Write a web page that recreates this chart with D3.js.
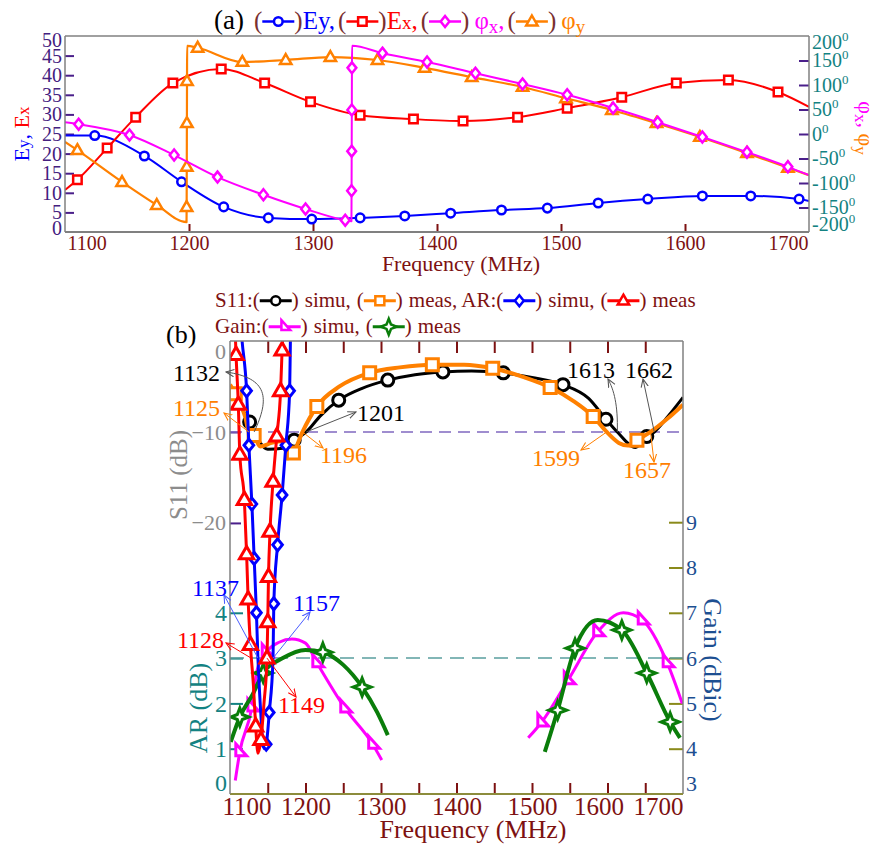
<!DOCTYPE html>
<html lang="en">
<head>
<meta charset="UTF-8" />
<title>Field, phase, S11, AR and gain vs frequency</title>
<script src="https://d3js.org/d3.v7.min.js"></script>
<style>
  html, body { margin: 0; padding: 0; background: #fff; }
  svg { display: block; }
</style>
</head>
<body>
<svg id="chart" width="878" height="846"></svg>
<script>
/**************** panel (a) data ****************/
const eyFreq = [1100, 1124, 1164, 1194, 1228, 1264, 1299, 1338, 1374, 1411, 1452, 1489, 1530, 1570, 1614, 1653, 1692, 1700];
const eyVal  = [24.6, 24.6, 19.4, 12.8, 6.4, 3.6, 3.3, 3.6, 4.1, 4.8, 5.6, 6.1, 7.4, 8.4, 9.2, 9.2, 8.4, 7.9];
const eyMark = [0,1,1,1,1,1,1,1,1,1,1,1,1,1,1,1,1,0];

const exFreq = [1100, 1110, 1134, 1157, 1187, 1226, 1261, 1298, 1338, 1381, 1421, 1465, 1505, 1549, 1593, 1635, 1675, 1700];
const exVal  = [10.7, 13.3, 21.4, 29.3, 38.0, 41.6, 38.0, 33.2, 29.8, 28.8, 28.3, 29.3, 31.6, 34.4, 38.0, 38.8, 35.7, 31.9];
const exMark = [0,1,1,1,1,1,1,1,1,1,1,1,1,1,1,1,1,0];

const phiXFreq = [1100, 1111, 1152, 1188, 1223, 1260, 1294, 1326, 1331, 1331.1, 1331.2, 1331.3, 1331.4, 1331.5, 1356, 1392, 1431, 1469, 1505, 1542, 1578, 1614, 1650, 1683, 1700];
const phiXDeg  = [24, 20, -2, -43, -88, -124, -153, -176, -178, -116, -35, 49, 135, 180, 165, 147, 124, 102, 80, 53, 24, -6, -37, -67, -84];
const phiXMark = [0,1,1,1,1,1,1,1,0,1,1,1,1,0,1,1,1,1,1,1,1,1,1,1,0];

const phiYFreq = [1100, 1110, 1146, 1174, 1198, 1198.1, 1198.2, 1198.3, 1198.4, 1198.5, 1207, 1243, 1278, 1314, 1352, 1390, 1428, 1469, 1504, 1541, 1577, 1612, 1650, 1683, 1700];
const phiYDeg  = [-16, -33, -98, -145, -180, -149, -67, 22, 108, 180, 176, 147, 151, 157, 151, 135, 116, 96, 73, 49, 22, -6, -39, -69, -84];
const phiYMark = [0,1,1,1,0,1,1,1,1,0,1,1,1,1,1,1,1,1,1,1,1,1,1,1,0];

const freqTicksA = [1100, 1200, 1300, 1400, 1500, 1600, 1700];
const eTicks = [0, 5, 10, 15, 20, 25, 30, 35, 40, 45, 50];
const phTicks = [-200, -150, -100, -50, 0, 50, 100, 150, 200];

/**************** panel (b) data ****************/
const s11SimFreq = [1100, 1110, 1126, 1132, 1150, 1170, 1185, 1201, 1220, 1244, 1275, 1309, 1345, 1382, 1420, 1462, 1500, 1541, 1575, 1598, 1613, 1637, 1652, 1662, 1680, 1700];
const s11SimVal  = [-5.8, -6.8, -8.9, -10, -11.9, -11.8, -10.9, -10, -8.2, -6.5, -5.2, -4.3, -3.7, -3.4, -3.3, -3.5, -4.0, -4.8, -6.3, -8.6, -10, -11.7, -10.5, -10, -8.3, -6.2];
const s11SimMark = [0,0,1,0,0,0,1,0,0,1,0,1,0,1,0,1,0,1,0,1,0,0,1,0,0,0];

const s11MeasFreq = [1100, 1107, 1120, 1125, 1132, 1140, 1155, 1170, 1177, 1184, 1196, 1215, 1245, 1285, 1325, 1368, 1410, 1448, 1490, 1524, 1555, 1581, 1599, 1615, 1627, 1639, 1657, 1680, 1700];
const s11MeasVal  = [-4.8, -5.8, -8.3, -10, -10.4, -11.6, -11.2, -11.0, -12.9, -12.3, -10, -7.2, -5.0, -3.5, -2.9, -2.6, -2.6, -3.0, -4.0, -5.1, -6.6, -8.3, -10, -11.2, -11.5, -10.9, -10, -8.5, -7.0];
const s11MeasMark = [0,1,0,0,1,0,0,0,0,1,0,1,0,1,0,1,0,1,0,1,0,1,0,0,0,1,0,0,0];

const arSimFreq = [1113, 1116, 1122, 1125, 1129, 1132, 1135, 1137, 1140, 1145, 1148, 1152, 1157, 1158, 1163, 1169, 1174, 1179, 1180, 1181];
const arSimVal  = [10.6, 10.0, 8.9, 7.7, 6.4, 5.2, 4.0, 3.0, 2.0, 1.0, 1.1, 1.8, 3.0, 4.2, 5.5, 6.6, 7.7, 8.9, 10.0, 10.6];
const arSimMark = [0,0,1,1,1,1,1,0,0,0,1,1,0,1,1,1,1,1,0,0];

const arMeasFreq = [1106, 1108, 1111, 1113, 1119, 1122, 1124, 1127, 1131, 1134, 1137, 1141, 1145, 1149, 1150, 1151, 1153, 1157, 1162, 1167, 1169, 1171];
const arMeasVal  = [10.6, 9.7, 8.6, 7.5, 6.5, 5.3, 4.3, 3.3, 2.4, 1.5, 0.9, 1.2, 2.0, 3.0, 3.8, 4.8, 5.8, 6.9, 7.9, 8.9, 9.8, 10.6];
const arMeasMark = [0,1,1,1,1,1,1,1,0,1,0,1,0,1,1,1,1,1,1,1,1,0];

const gainSimLoFreq = [1107, 1113, 1129, 1136, 1148, 1165, 1182, 1200, 1215, 1252, 1289, 1301];
const gainSimLoVal  = [3.3, 3.93, 4.92, 5.74, 6.13, 6.35, 6.42, 6.33, 5.9, 4.9, 4.1, 3.75];
const gainSimLoMark = [0,1,1,0,1,0,0,0,1,1,1,0];
const gainSimHiFreq = [1495, 1513, 1548, 1587, 1621, 1646, 1679, 1699];
const gainSimHiVal  = [4.24, 4.59, 5.52, 6.58, 7.0, 6.84, 5.9, 5.0];
const gainSimHiMark = [0,1,1,1,0,1,1,0];

const gainMeasLoFreq = [1101, 1113, 1130, 1144, 1170, 1200, 1223, 1250, 1275, 1295, 1309];
const gainMeasLoVal  = [4.15, 4.7, 5.2, 5.67, 6.0, 6.18, 6.13, 5.85, 5.36, 4.8, 4.3];
const gainMeasLoMark = [0,1,0,1,0,0,1,0,1,0,0];
const gainMeasHiFreq = [1517, 1534, 1557, 1587, 1619, 1652, 1683, 1696];
const gainMeasHiVal  = [3.93, 4.85, 6.22, 6.84, 6.62, 5.67, 4.59, 4.24];
const gainMeasHiMark = [0,1,1,0,1,1,1,0];

const freqTicksB = [1100, 1150, 1200, 1250, 1300, 1350, 1400, 1450, 1500, 1550, 1600, 1650, 1700];
const s11Ticks = [0, -10, -20];
const arTicks = [0, 1, 2, 3, 4];
const gainTicks = [3, 4, 5, 6, 7, 8, 9];

// band-edge labels: S11 at -10 dB, AR at 3 dB
const s11Notes = [1132, 1125, 1201, 1196, 1613, 1662, 1599, 1657];
const arNotes = [1137, 1157, 1128, 1149];

/**************** styling / layout ****************/
const FONT = '"Liberation Serif", "DejaVu Serif", serif';
const MAROON = "#7d1111", PAREN = "#7a3030";
const BLUE = "#0000ff", RED = "#ff0000", MAG = "#ff00ff", ORANGE = "#ff8000", GREEN = "#0a7d0a";

const svg = d3.select("#chart").attr("font-family", FONT);
const defs = svg.append("defs");

const A = { left: 65, right: 809, top: 36, bottom: 232 };
const B = { left: 230, right: 683, top: 341, bottom: 794 };

const xA = d3.scaleLinear().domain([1100, 1700]).range([A.left, A.right]);
const yE = d3.scaleLinear().domain([0, 50]).range([A.bottom, A.top]);
const yPh = d3.scaleLinear().domain([-200, 200]).range([A.bottom, A.top]);

const xB = d3.scaleLinear().domain([1100, 1700]).range([B.left, B.right]);
const yS = d3.scaleLinear().domain([-49.8, 0]).range([B.bottom, B.top]);
const yAR = d3.scaleLinear().domain([0, 10]).range([B.bottom, B.top]);
const yG = d3.scaleLinear().domain([3, 13]).range([B.bottom, B.top]);

// marker shapes
const sym = {
  circle: r => d3.symbol(d3.symbolCircle, Math.PI * r * r)(),
  square: s => `M${-s / 2},${-s / 2}h${s}v${s}h${-s}Z`,
  diamond: s => `M0,${-s}L${s * 0.8},0L0,${s}L${-s * 0.8},0Z`,
  tri: s => `M0,${-s}L${s * 0.95},${s * 0.65}L${-s * 0.95},${s * 0.65}Z`,
  wedge: s => `M${-s * 0.5},${-s}L${s * 0.85},${s * 0.5}L${-s * 0.5},${s * 0.5}Z`,
  star: s => `M0,${-s}L${s * 0.28},${-s * 0.28}L${s},0L${s * 0.28},${s * 0.28}L0,${s}L${-s * 0.28},${s * 0.28}L${-s},0L${-s * 0.28},${-s * 0.28}Z`
};

function clip(id, box) {
  defs.append("clipPath").attr("id", id).append("rect")
    .attr("x", box.left).attr("y", box.top)
    .attr("width", box.right - box.left).attr("height", box.bottom - box.top);
}
clip("clipA", A);
clip("clipB", B);

// draw one series: smooth line + open markers
function series(g, fr, vals, marks, xs, ys, o) {
  const pts = fr.map((f, i) => [xs(f), ys(vals[i]), marks[i]]);
  g.append("path")
    .attr("d", d3.line().curve(d3.curveMonotoneX)(pts))
    .attr("fill", "none").attr("stroke", o.color).attr("stroke-width", o.lw)
    .attr("stroke-linejoin", "round");
  g.selectAll(null).data(pts.filter(p => p[2])).join("path")
    .attr("transform", p => `translate(${p[0]},${p[1]})`)
    .attr("d", o.sym)
    .attr("fill", "#fff").attr("stroke", o.color).attr("stroke-width", o.mw);
}

function styleAxis(g, tickCol, textCol, fs, noTick) {
  g.attr("font-family", FONT).attr("font-size", fs);
  g.select(".domain").remove();
  g.selectAll(".tick line").attr("stroke", tickCol).attr("stroke-width", 2);
  if (noTick) g.selectAll(".tick line").filter(d => noTick.includes(d)).remove();
  g.selectAll(".tick text").attr("fill", textCol);
}

function frame(box, cols) {
  const f = svg.append("g").attr("fill", "none");
  f.append("line").attr("x1", box.left).attr("x2", box.right).attr("y1", box.top).attr("y2", box.top).attr("stroke", cols[0]).attr("stroke-width", 1.5);
  f.append("line").attr("x1", box.right).attr("x2", box.right).attr("y1", box.top).attr("y2", box.bottom).attr("stroke", cols[1]).attr("stroke-width", 1.5);
  f.append("line").attr("x1", box.left).attr("x2", box.right).attr("y1", box.bottom).attr("y2", box.bottom).attr("stroke", cols[2]).attr("stroke-width", 2);
  f.append("line").attr("x1", box.left).attr("x2", box.left).attr("y1", box.top).attr("y2", box.bottom).attr("stroke", cols[3]).attr("stroke-width", 1.5);
}

// text + sample legend laid out left to right
function flowLegend(x0, y, fs, items) {
  const g = svg.append("g");
  let x = x0;
  items.forEach(it => {
    x += it.gap || 0;
    if (it.sample) {
      const cy = y - fs * 0.3;
      g.append("line").attr("x1", x).attr("x2", x + it.w).attr("y1", cy).attr("y2", cy)
        .attr("stroke", it.color).attr("stroke-width", it.lw);
      g.append("path").attr("transform", `translate(${x + it.w / 2},${cy})`).attr("d", it.sym)
        .attr("fill", "#fff").attr("stroke", it.color).attr("stroke-width", it.mw);
      x += it.w;
    } else {
      const t = g.append("text").attr("x", x).attr("y", y).attr("font-size", fs).attr("fill", it.color);
      it.parts.forEach(p => t.append("tspan").attr("font-size", p[1] || fs).attr("dy", p[2] || 0).text(p[0]));
      x += t.node().getComputedTextLength();
    }
  });
}

/**************** panel (a) ****************/
const axXA = svg.append("g").attr("transform", `translate(0,${A.bottom})`)
  .call(d3.axisBottom(xA).tickValues(freqTicksA).tickSize(-8).tickPadding(4).tickFormat(d3.format("d")));
styleAxis(axXA, MAROON, MAROON, 20, [1100, 1700]);
axXA.selectAll(".tick text")
  .attr("text-anchor", d => d === 1100 ? "start" : d === 1700 ? "end" : "middle")
  .attr("x", d => d === 1100 ? 2 : d === 1700 ? -1 : 0);

const axEA = svg.append("g").attr("transform", `translate(${A.left},0)`)
  .call(d3.axisLeft(yE).tickValues(eTicks).tickSize(-9).tickPadding(3));
styleAxis(axEA, "#4a1f8a", "#44207f", 20, [0, 50]);
axEA.selectAll(".tick text").attr("y", d => d === 50 ? 4 : d === 0 ? -4 : 0);

const axPA = svg.append("g").attr("transform", `translate(${A.right},0)`)
  .call(d3.axisRight(yPh).tickValues(phTicks).tickSize(-10).tickPadding(3));
styleAxis(axPA, "#4a1f8a", "#138282", 20, [-200, 200]);
axPA.selectAll(".tick text")
  .attr("y", d => d === 200 ? 6 : d === -200 ? -8 : 0)
  .each(function (d) {
    d3.select(this).text(d).append("tspan").attr("font-size", 13).attr("dy", -8).text("0");
  });

const gA = svg.append("g").attr("clip-path", "url(#clipA)");
series(gA, eyFreq, eyVal, eyMark, xA, yE, { color: BLUE, lw: 2, mw: 2.5, sym: sym.circle(4.3) });
series(gA, exFreq, exVal, exMark, xA, yE, { color: RED, lw: 2, mw: 2.5, sym: sym.square(8.5) });
series(gA, phiYFreq, phiYDeg, phiYMark, xA, yPh, { color: ORANGE, lw: 2.2, mw: 2.5, sym: sym.tri(6) });
series(gA, phiXFreq, phiXDeg, phiXMark, xA, yPh, { color: MAG, lw: 2, mw: 2.5, sym: sym.diamond(5.5) });

frame(A, ["#808080", "#808080", "#808080", "#808080"]);

// axis titles (a)
const tEy = svg.append("text").attr("transform", "translate(29,134) rotate(-90)")
  .attr("text-anchor", "middle").attr("font-size", 22);
tEy.append("tspan").attr("fill", BLUE).text("E");
tEy.append("tspan").attr("fill", BLUE).attr("font-size", 17).text("y");
tEy.append("tspan").attr("fill", BLUE).text(", ");
tEy.append("tspan").attr("fill", RED).text("E");
tEy.append("tspan").attr("fill", RED).attr("font-size", 17).text("x");

const tPh = svg.append("text").attr("transform", "translate(859,128) rotate(90)")
  .attr("text-anchor", "middle").attr("font-size", 22);
tPh.append("tspan").attr("fill", MAG).text("φ");
tPh.append("tspan").attr("fill", MAG).attr("font-size", 17).attr("dy", 4).text("x");
tPh.append("tspan").attr("fill", MAG).attr("dy", -4).text(", ");
tPh.append("tspan").attr("fill", ORANGE).text("φ");
tPh.append("tspan").attr("fill", ORANGE).attr("font-size", 17).attr("dy", 4).text("y");

svg.append("text").attr("x", 461).attr("y", 271).attr("text-anchor", "middle")
  .attr("font-size", 22).attr("fill", MAROON).text("Frequency (MHz)");

flowLegend(214, 29, 25, [
  { parts: [["(a)", 27]], color: "#000" },
  { gap: 10, parts: [["("]], color: PAREN },
  { sample: true, w: 32, color: BLUE, lw: 2.5, mw: 2.5, sym: sym.circle(4.3) },
  { parts: [[")"]], color: PAREN },
  { parts: [["Ey,"]], color: BLUE },
  { gap: 3, parts: [["("]], color: PAREN },
  { sample: true, w: 32, color: RED, lw: 2.5, mw: 2.5, sym: sym.square(8.5) },
  { parts: [[")"]], color: PAREN },
  { parts: [["E"], ["x", 19], [","]], color: RED },
  { gap: 3, parts: [["("]], color: PAREN },
  { sample: true, w: 32, color: MAG, lw: 2.5, mw: 2.5, sym: sym.diamond(5.5) },
  { parts: [[")"]], color: PAREN },
  { gap: 5, parts: [["φ"], ["x", 19, 4], [",", 25, -4]], color: MAG },
  { gap: 3, parts: [["("]], color: PAREN },
  { sample: true, w: 32, color: ORANGE, lw: 2.5, mw: 2.5, sym: sym.tri(6) },
  { parts: [[")"]], color: PAREN },
  { gap: 5, parts: [["φ"], ["y", 19, 4]], color: ORANGE }
]);

/**************** panel (b) ****************/
const axXB = svg.append("g").attr("transform", `translate(0,${B.bottom})`)
  .call(d3.axisBottom(xB).tickValues(freqTicksB).tickSize(-11).tickPadding(3)
    .tickFormat(d => d % 100 === 0 ? String(d) : ""));
styleAxis(axXB, MAROON, MAROON, 25, [1100, 1700]);
axXB.selectAll(".tick text")
  .attr("text-anchor", d => d === 1100 ? "start" : d === 1700 ? "end" : "middle")
  .attr("x", d => d === 1100 ? -8 : d === 1600 ? -9 : 0);

const axTB = svg.append("g").attr("transform", `translate(0,${B.top})`)
  .call(d3.axisTop(xB).tickValues(freqTicksB).tickSize(-12).tickFormat(""));
styleAxis(axTB, MAROON, MAROON, 20, [1100, 1700]);

const axSB = svg.append("g").attr("transform", `translate(${B.left},0)`)
  .call(d3.axisLeft(yS).tickValues(s11Ticks).tickSize(-11).tickPadding(4));
styleAxis(axSB, "#4a1f8a", "#8c8c8c", 22, [0]);
axSB.selectAll(".tick text").attr("y", d => d === 0 ? 10 : 0);

const axAB = svg.append("g").attr("transform", `translate(${B.left},0)`)
  .call(d3.axisLeft(yAR).tickValues(arTicks).tickSize(-13).tickPadding(3));
styleAxis(axAB, "#138282", "#138282", 24, [0]);
axAB.selectAll(".tick text").attr("y", d => d === 0 ? -11 : 0);

const axGB = svg.append("g").attr("transform", `translate(${B.right},0)`)
  .call(d3.axisRight(yG).tickValues(gainTicks).tickSize(-14).tickPadding(3));
styleAxis(axGB, "#8a8a1a", "#1d4f91", 22, [3]);
axGB.selectAll(".tick text").attr("y", d => d === 3 ? -11 : 0);

const gB = svg.append("g").attr("clip-path", "url(#clipB)");
gB.append("line").attr("x1", B.left).attr("x2", B.right).attr("y1", yS(-10)).attr("y2", yS(-10))
  .attr("stroke", "#8068c0").attr("stroke-width", 1.5).attr("stroke-dasharray", "12,7");
gB.append("line").attr("x1", B.left).attr("x2", B.right).attr("y1", yAR(3)).attr("y2", yAR(3))
  .attr("stroke", "#5a9e9e").attr("stroke-width", 1.5).attr("stroke-dasharray", "14,8");

series(gB, s11SimFreq, s11SimVal, s11SimMark, xB, yS, { color: "#000", lw: 3, mw: 3, sym: sym.circle(6) });
series(gB, s11MeasFreq, s11MeasVal, s11MeasMark, xB, yS, { color: ORANGE, lw: 4, mw: 3, sym: sym.square(12) });
series(gB, gainSimLoFreq, gainSimLoVal, gainSimLoMark, xB, yG, { color: MAG, lw: 3, mw: 3, sym: sym.wedge(8) });
series(gB, gainSimHiFreq, gainSimHiVal, gainSimHiMark, xB, yG, { color: MAG, lw: 3, mw: 3, sym: sym.wedge(8) });
series(gB, gainMeasLoFreq, gainMeasLoVal, gainMeasLoMark, xB, yG, { color: GREEN, lw: 4, mw: 3, sym: sym.star(9) });
series(gB, gainMeasHiFreq, gainMeasHiVal, gainMeasHiMark, xB, yG, { color: GREEN, lw: 4, mw: 3, sym: sym.star(9) });
series(gB, arSimFreq, arSimVal, arSimMark, xB, yAR, { color: BLUE, lw: 3, mw: 3, sym: sym.diamond(6) });
series(gB, arMeasFreq, arMeasVal, arMeasMark, xB, yAR, { color: RED, lw: 3, mw: 3, sym: sym.tri(7.5) });

frame(B, ["#808080", "#808080", "#8c8c3c", "#808080"]);

// annotation arrows
const arrowCols = { k: "#555", o: ORANGE, b: "#4a5cff", r: RED };
Object.entries(arrowCols).forEach(([k, c]) => {
  defs.append("marker").attr("id", "ah-" + k).attr("viewBox", "0 0 10 10")
    .attr("refX", 9).attr("refY", 5).attr("markerWidth", 9).attr("markerHeight", 9)
    .attr("markerUnits", "userSpaceOnUse").attr("orient", "auto")
    .append("path").attr("d", "M0,1L9,5L0,9").attr("fill", "none").attr("stroke", c).attr("stroke-width", 1.2);
});
// text position, arrow end, colours for each label (layout only)
const noteLayout = {
  1132: { tx: 173, ty: 381, ex: 226, ey: 372, c: "#000", a: "k", cx1: 270, cy1: 398, cx2: 268, cy2: 378 },
  1125: { tx: 173, ty: 416, ex: 224, ey: 413, c: ORANGE, a: "o" },
  1201: { tx: 357, ty: 421, ex: 356, ey: 412, c: "#000", a: "k" },
  1196: { tx: 320, ty: 463, ex: 323, ey: 448, c: ORANGE, a: "o" },
  1613: { tx: 567, ty: 378, ex: 608, ey: 379, c: "#000", a: "k", cx1: 618, cy1: 405, cx2: 614, cy2: 390 },
  1662: { tx: 625, ty: 378, ex: 643, ey: 379, c: "#000", a: "k" },
  1599: { tx: 532, ty: 466, ex: 581, ey: 450, c: ORANGE, a: "o" },
  1657: { tx: 623, ty: 478, ex: 654, ey: 462, c: ORANGE, a: "o" },
  1137: { tx: 192, ty: 596, ex: 224, ey: 595, c: BLUE, a: "b" },
  1157: { tx: 293, ty: 611, ex: 310, ey: 612, c: BLUE, a: "b" },
  1128: { tx: 177, ty: 648, ex: 226, ey: 643, c: RED, a: "r" },
  1149: { tx: 278, ty: 713, ex: 296, ey: 697, c: RED, a: "r" }
};
const gN = svg.append("g");
function note(f, y0) {
  const L = noteLayout[f];
  const x0 = xB(f);
  const d = L.cx1 !== undefined
    ? `M${x0},${y0}C${L.cx1},${L.cy1} ${L.cx2},${L.cy2} ${L.ex},${L.ey}`
    : `M${x0},${y0}L${L.ex},${L.ey}`;
  gN.append("path").attr("d", d).attr("fill", "none")
    .attr("stroke", arrowCols[L.a]).attr("stroke-width", 1)
    .attr("marker-end", `url(#ah-${L.a})`);
  gN.append("text").attr("x", L.tx).attr("y", L.ty).attr("font-size", 24)
    .attr("fill", L.c).text(f);
}
s11Notes.forEach(f => note(f, yS(-10)));
arNotes.forEach(f => note(f, yAR(3)));

// axis titles (b)
svg.append("text").attr("transform", "translate(178,475) rotate(-90)").attr("dy", "0.35em")
  .attr("text-anchor", "middle").attr("font-size", 25).attr("fill", "#8c8c8c").text("S11 (dB)");
svg.append("text").attr("transform", "translate(198,708) rotate(-90)").attr("dy", "0.35em")
  .attr("text-anchor", "middle").attr("font-size", 26).attr("fill", "#138282").text("AR (dB)");
svg.append("text").attr("transform", "translate(713,660) rotate(90)").attr("dy", "0.35em")
  .attr("text-anchor", "middle").attr("font-size", 26).attr("fill", "#1d4f91").text("Gain (dBic)");

svg.append("text").attr("x", 473).attr("y", 838).attr("text-anchor", "middle")
  .attr("font-size", 26).attr("fill", MAROON).text("Frequency (MHz)");

svg.append("text").attr("x", 166).attr("y", 343).attr("font-size", 26).attr("fill", "#000").text("(b)");

flowLegend(215, 307, 21, [
  { parts: [["S11:"]], color: MAROON },
  { parts: [["("]], color: MAROON },
  { sample: true, w: 32, color: "#000", lw: 3, mw: 2.5, sym: sym.circle(4.5) },
  { parts: [[")"]], color: MAROON },
  { gap: 6, parts: [["simu,"]], color: MAROON },
  { gap: 6, parts: [["("]], color: MAROON },
  { sample: true, w: 32, color: ORANGE, lw: 3, mw: 2.5, sym: sym.square(9) },
  { parts: [[")"]], color: MAROON },
  { gap: 6, parts: [["meas, AR:"]], color: MAROON },
  { parts: [["("]], color: MAROON },
  { sample: true, w: 32, color: BLUE, lw: 3, mw: 2.5, sym: sym.diamond(5.5) },
  { parts: [[")"]], color: MAROON },
  { gap: 6, parts: [["simu,"]], color: MAROON },
  { gap: 6, parts: [["("]], color: MAROON },
  { sample: true, w: 32, color: RED, lw: 3, mw: 2.5, sym: sym.tri(6) },
  { parts: [[")"]], color: MAROON },
  { gap: 6, parts: [["meas"]], color: MAROON }
]);
flowLegend(215, 333, 21, [
  { parts: [["Gain:"]], color: MAROON },
  { parts: [["("]], color: MAROON },
  { sample: true, w: 32, color: MAG, lw: 3, mw: 2.5, sym: sym.wedge(6.5) },
  { parts: [[")"]], color: MAROON },
  { gap: 6, parts: [["simu,"]], color: MAROON },
  { gap: 6, parts: [["("]], color: MAROON },
  { sample: true, w: 32, color: GREEN, lw: 3, mw: 2.5, sym: sym.star(8) },
  { parts: [[")"]], color: MAROON },
  { gap: 6, parts: [["meas"]], color: MAROON }
]);
</script>
</body>
</html>
